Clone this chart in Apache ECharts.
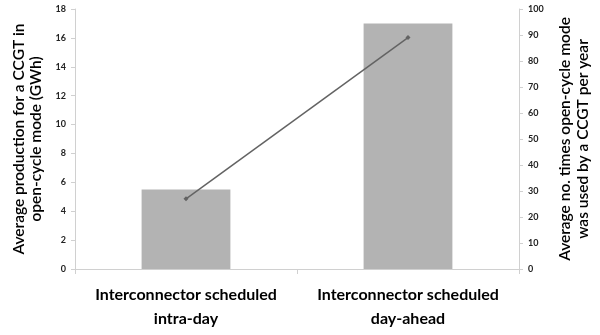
<!DOCTYPE html>
<html>
<head>
<meta charset="utf-8">
<script src="https://cdn.jsdelivr.net/npm/echarts@6/dist/echarts.min.js"></script>
<style>
  html, body { margin: 0; padding: 0; background: #fff; }
  #chart { width: 600px; height: 335px; }
</style>
</head>
<body>
<div id="chart"></div>
<script>
// Scheduling scenarios on the category axis
const categories = ['Interconnector scheduled\nintra-day', 'Interconnector scheduled\nday-ahead'];
// Average open-cycle production per CCGT (GWh), left axis
const productionGWh = [5.5, 17];
// Average number of open-cycle starts per CCGT per year, right axis
const openCycleTimes = [27, 89];
// Axis ranges
const leftAxis = { min: 0, max: 18, interval: 2 };
const rightAxis = { min: 0, max: 100, interval: 10 };

const FONT = 'Lato, "Open Sans", sans-serif';
const axisLineColor = '#d0d0d0';

const chart = echarts.init(document.getElementById('chart'), null, { renderer: 'canvas' });
chart.setOption({
  animation: false,
  backgroundColor: '#ffffff',
  grid: { left: 75, right: 78, top: 9, bottom: 66, containLabel: false },
  xAxis: {
    type: 'category',
    data: categories,
    boundaryGap: true,
    axisLine: { lineStyle: { color: axisLineColor, width: 1 } },
    axisTick: { show: true, length: 5, lineStyle: { color: axisLineColor } },
    axisLabel: {
      color: '#000', fontFamily: FONT, fontWeight: 'bold', fontSize: 16,
      lineHeight: 24, margin: 14, interval: 0
    },
    splitLine: { show: false }
  },
  yAxis: [
    {
      type: 'value', position: 'left',
      min: leftAxis.min, max: leftAxis.max, interval: leftAxis.interval,
      name: 'Average production for a CCGT in\nopen-cycle mode (GWh)',
      nameLocation: 'middle', nameRotate: 90, nameGap: 31,
      nameTextStyle: { color: '#000', fontFamily: FONT, fontSize: 15.5, lineHeight: 17, fontWeight: 600 },
      axisLine: { show: true, lineStyle: { color: axisLineColor } },
      axisTick: { show: true, length: 4, lineStyle: { color: axisLineColor } },
      axisLabel: { color: '#222', fontFamily: FONT, fontWeight: 'bold', fontSize: 9, margin: 9 },
      splitLine: { show: false }
    },
    {
      type: 'value', position: 'right',
      min: rightAxis.min, max: rightAxis.max, interval: rightAxis.interval,
      name: 'Average no. times open-cycle mode\nwas used by a CCGT per year',
      nameLocation: 'middle', nameRotate: 90, nameGap: 37,
      nameTextStyle: { color: '#000', fontFamily: FONT, fontSize: 15.5, lineHeight: 18, fontWeight: 600 },
      axisLine: { show: true, lineStyle: { color: axisLineColor } },
      axisTick: { show: true, length: 4, lineStyle: { color: axisLineColor } },
      axisLabel: { color: '#222', fontFamily: FONT, fontWeight: 'bold', fontSize: 9, margin: 9 },
      splitLine: { show: false }
    }
  ],
  series: [
    {
      type: 'bar',
      yAxisIndex: 0,
      data: productionGWh,
      barWidth: '40%',
      itemStyle: { color: '#b3b3b3' }
    },
    {
      type: 'line',
      yAxisIndex: 1,
      data: openCycleTimes,
      symbol: 'diamond',
      symbolSize: 5,
      lineStyle: { color: '#636363', width: 1.5 },
      itemStyle: { color: '#636363' }
    }
  ]
});
</script>
</body>
</html>
